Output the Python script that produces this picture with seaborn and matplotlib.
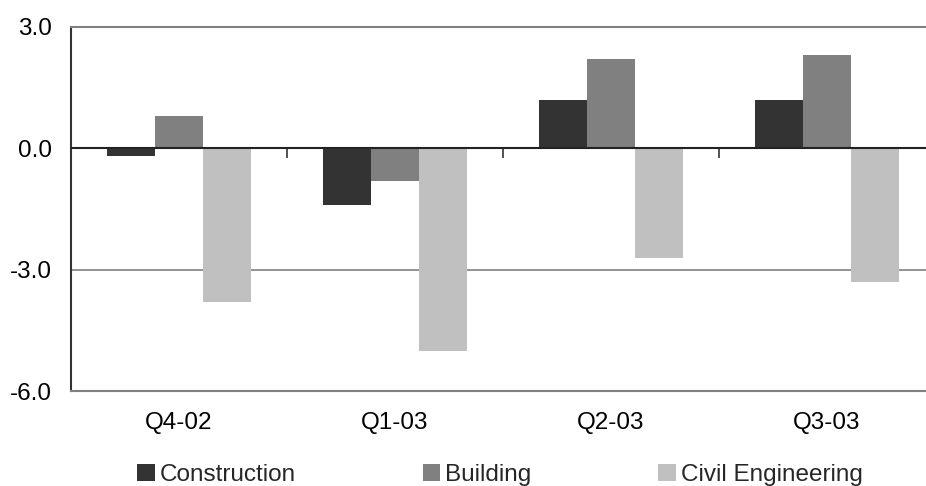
import pandas as pd
import matplotlib.pyplot as plt
import seaborn as sns

# 데이터
quarters = ["Q4-02", "Q1-03", "Q2-03", "Q3-03"]
series_names = ["Construction", "Building", "Civil Engineering"]
construction = [-0.2, -1.4, 1.2, 1.2]
building = [0.8, -0.8, 2.2, 2.3]
civil_eng = [-3.8, -5.0, -2.7, -3.3]
colors = ["#333333", "#808080", "#C0C0C0"]

df = pd.DataFrame({
    "quarter": quarters * 3,
    "series": [s for s in series_names for _ in quarters],
    "value": construction + building + civil_eng,
})

sns.set_style("white")
plt.rcParams["font.family"] = ["Liberation Sans", "DejaVu Sans"]
fs = 17.5

fig = plt.figure(figsize=(9.26, 4.86), dpi=100)
ax = fig.add_axes([71 / 926, 1 - 391 / 486, 1 - 71 / 926, (391 - 27) / 486])

sns.barplot(data=df, x="quarter", y="value", hue="series", palette=colors,
            width=0.667, saturation=1, errorbar=None, ax=ax, zorder=2,
            linewidth=0, edgecolor="none")

ax.set_ylim(-6, 3)
ax.set_yticks([3, 0, -3, -6])
ax.set_yticklabels(["3.0", "0.0", "-3.0", "-6.0"])
ax.set_xlim(-0.5, 3.46)
ax.set_xlabel("")
ax.set_ylabel("")
ax.tick_params(axis="both", length=0, labelsize=fs, colors="black")
ax.tick_params(axis="y", pad=14)
ax.tick_params(axis="x", pad=15)

# 가로 격자선
ax.set_axisbelow(True)
ax.yaxis.grid(True, color="#808080", linewidth=1.2)
ax.axhline(0, color="#222222", linewidth=1.5, zorder=3)

for side in ["top", "bottom"]:
    ax.spines[side].set_color("#808080")
    ax.spines[side].set_linewidth(1.5)
ax.spines["right"].set_visible(False)
ax.spines["left"].set_color("#333333")
ax.spines["left"].set_linewidth(1.5)

# 0선 위의 구분 눈금
sec = ax.secondary_xaxis(6 / 9)
sec.set_xticks([0.5, 1.5, 2.5])
sec.tick_params(axis="x", direction="in", length=7, width=1.2, color="#333333",
                labelbottom=False, labeltop=False)
for sp in sec.spines.values():
    sp.set_visible(False)

handles, labels = ax.get_legend_handles_labels()
ax.get_legend().remove()
fig.legend(handles, labels, loc="center", bbox_to_anchor=(500 / 926, 1 - 475 / 486),
           ncol=3, frameon=False, fontsize=fs, handlelength=0.72, handleheight=0.72,
           handletextpad=0.22, columnspacing=5.2, borderpad=0, borderaxespad=0)

plt.savefig("out.png", dpi=100)
